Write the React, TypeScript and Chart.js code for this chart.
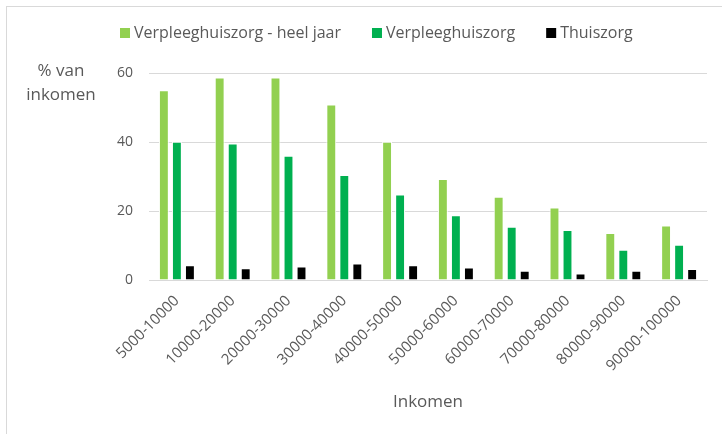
import React, { useEffect, useRef } from "react";
import { Chart, registerables } from "chart.js";

Chart.register(...registerables);

const categories = [
  "5000-10000",
  "10000-20000",
  "20000-30000",
  "30000-40000",
  "40000-50000",
  "50000-60000",
  "60000-70000",
  "70000-80000",
  "80000-90000",
  "90000-100000",
];
const heelJaar = [55, 58.7, 58.7, 50.9, 40.1, 29.3, 24.1, 21, 13.6, 15.8];
const verpleeghuiszorg = [40.1, 39.6, 36, 30.4, 24.8, 18.8, 15.4, 14.5, 8.8, 10.2];
const thuiszorg = [4.3, 3.4, 3.9, 4.8, 4.3, 3.6, 2.7, 1.9, 2.7, 3.2];
const seriesLabels = ["Verpleeghuiszorg - heel jaar", "Verpleeghuiszorg", "Thuiszorg"];
const yTitleLines = ["% van", "inkomen"];
const xTitle = "Inkomen";

const FONT = "'Segoe UI', 'Open Sans', sans-serif";
const TEXT = "#595959";
const GRID = "#d9d9d9";

const customLegend = {
  id: "customLegend",
  afterDraw(chart: any) {
    const ctx = chart.ctx;
    ctx.save();
    ctx.font = `16px ${FONT}`;
    ctx.textBaseline = "middle";
    ctx.textAlign = "left";
    const cy = 33;
    let x = 120;
    chart.data.datasets.forEach((ds: any) => {
      ctx.fillStyle = ds.backgroundColor;
      ctx.fillRect(x, cy - 5, 10, 10);
      x += 14;
      ctx.fillStyle = TEXT;
      ctx.fillText(ds.label, x, cy);
      x += ctx.measureText(ds.label).width + 31;
    });
    ctx.restore();
  },
};

const yTitlePlugin = {
  id: "yTitlePlugin",
  afterDraw(chart: any) {
    const ctx = chart.ctx;
    ctx.save();
    ctx.font = `17px ${FONT}`;
    ctx.fillStyle = TEXT;
    ctx.textAlign = "center";
    ctx.textBaseline = "alphabetic";
    ctx.fillText(yTitleLines[0], 61, 76);
    ctx.fillText(yTitleLines[1], 61, 100);
    ctx.restore();
  },
};

export default function App() {
  const ref = useRef<HTMLCanvasElement>(null);
  useEffect(() => {
    if (!ref.current) return;
    const chart = new Chart(ref.current, {
      type: "bar",
      data: {
        labels: categories,
        datasets: [
          { label: seriesLabels[0], data: heelJaar, backgroundColor: "#92D050", borderColor: "#ffffff", borderWidth: 1 },
          { label: seriesLabels[1], data: verpleeghuiszorg, backgroundColor: "#00B050", borderColor: "#ffffff", borderWidth: 1 },
          { label: seriesLabels[2], data: thuiszorg, backgroundColor: "#000000", borderColor: "#ffffff", borderWidth: 1 },
        ],
      },
      options: {
        responsive: false,
        animation: false,
        layout: { padding: { top: 73, left: 30, right: 15, bottom: 0 } },
        datasets: { bar: { categoryPercentage: 0.7, barPercentage: 0.76 } },
        plugins: {
          legend: { display: false },
          tooltip: { enabled: false },
        },
        scales: {
          x: {
            grid: { display: false },
            border: { display: true, color: GRID },
            ticks: {
              autoSkip: false,
              minRotation: 45,
              maxRotation: 45,
              color: TEXT,
              font: { family: FONT, size: 15 },
              padding: 4,
            },
            title: {
              display: true,
              text: xTitle,
              color: TEXT,
              font: { family: FONT, size: 17 },
              padding: { top: 0, bottom: 22 },
            },
            afterFit: (s: any) => {
              s.height = 154;
            },
          },
          y: {
            min: 0,
            max: 60,
            grid: { color: GRID, drawTicks: false, lineWidth: 1 },
            border: { display: false },
            ticks: {
              stepSize: 20,
              color: TEXT,
              font: { family: FONT, size: 14 },
              padding: 16,
            },
            afterFit: (s: any) => {
              s.width = 119;
            },
          },
        },
      },
      plugins: [customLegend, yTitlePlugin],
    });
    return () => chart.destroy();
  }, []);

  return (
    <div style={{ position: "absolute", left: 0, top: 0, width: 722, height: 434, overflow: "hidden", background: "#fff" }}>
      <div
        style={{
          position: "absolute",
          left: 6,
          top: 6,
          width: 800,
          height: 600,
          borderLeft: "1px solid #d9d9d9",
          borderTop: "1px solid #d9d9d9",
        }}
      />
      <canvas ref={ref} width={722} height={434} style={{ position: "absolute", left: 0, top: 0, width: 722, height: 434 }} />
    </div>
  );
}
